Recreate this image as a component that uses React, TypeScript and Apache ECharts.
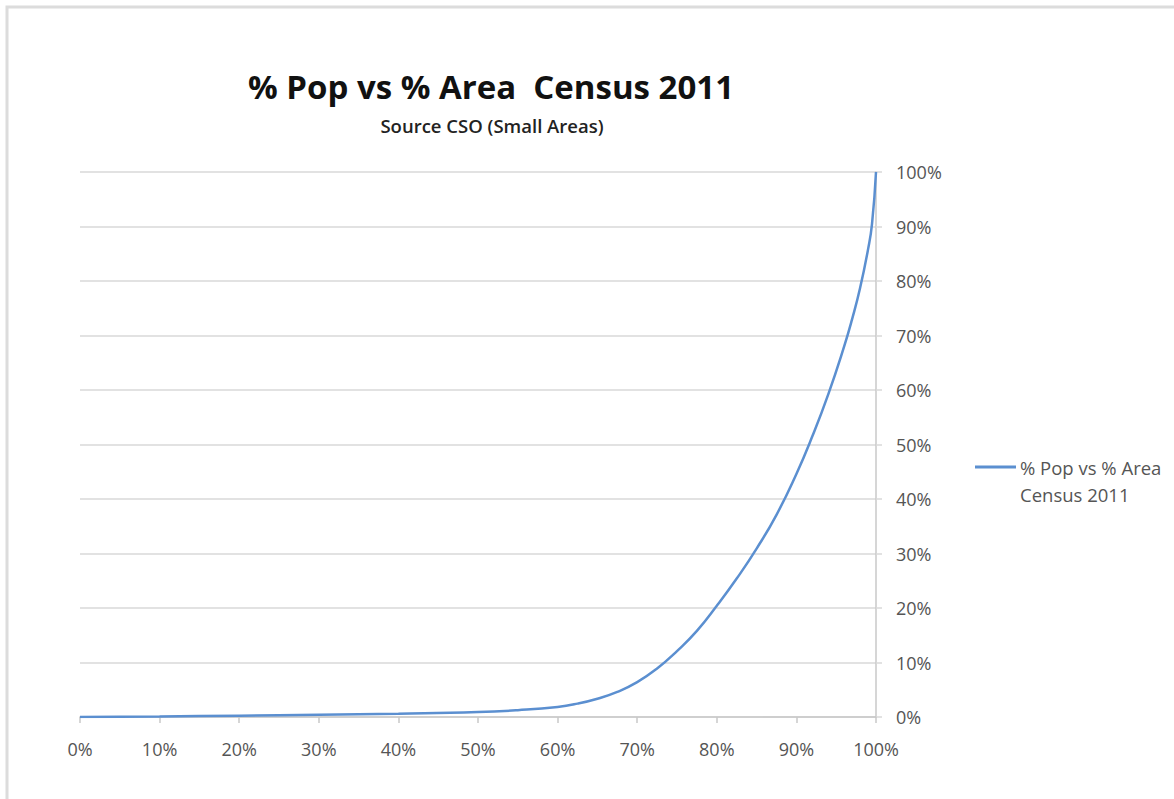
import React, { useEffect, useRef } from "react";
import * as echarts from "echarts";

// Cumulative share of area (x) against cumulative share of population (y)
const areaShare = [
  0, 0.1, 0.2, 0.3, 0.4, 0.5, 0.55, 0.6, 0.625, 0.65, 0.675, 0.7, 0.725, 0.75,
  0.775, 0.8, 0.825, 0.85, 0.875, 0.9, 0.92, 0.94, 0.96, 0.97, 0.98, 0.99,
  0.995, 1.0,
];
const popShare = [
  0, 0.001, 0.0025, 0.004, 0.006, 0.009, 0.0125, 0.0185, 0.0245, 0.0335,
  0.046, 0.064, 0.089, 0.121, 0.158, 0.204, 0.254, 0.309, 0.371, 0.446, 0.515,
  0.592, 0.68, 0.73, 0.787, 0.858, 0.905, 1.0,
];

const seriesName = "% Pop vs % Area Census 2011";
const titleText = "% Pop vs % Area  Census 2011";
const subtitleText = "Source CSO (Small Areas)";
const legendLines = ["% Pop vs % Area", "Census 2011"];

const FONT = "'Open Sans', 'DejaVu Sans', sans-serif";
const LINE_COLOR = "#5b8fd0";
const LABEL_COLOR = "#555555";

const pct = (v: number) => `${Math.round(v * 100)}%`;

export default function App() {
  const ref = useRef<HTMLDivElement>(null);

  useEffect(() => {
    if (!ref.current) return;
    const chart = echarts.init(ref.current, undefined, { renderer: "svg" });
    const points = areaShare.map((x, i) => [x, popShare[i]]);

    chart.setOption({
      animation: false,
      backgroundColor: "#ffffff",
      textStyle: { fontFamily: FONT },
      grid: { left: 80, right: 298, top: 172, bottom: 82 },
      xAxis: {
        type: "value",
        min: 0,
        max: 1,
        interval: 0.1,
        axisLine: {
          show: true,
          onZero: false,
          lineStyle: { color: "#c8c8c8", width: 1.5 },
        },
        axisTick: {
          show: true,
          inside: false,
          length: 6,
          lineStyle: { color: "#c8c8c8", width: 1.5 },
        },
        splitLine: { show: false },
        axisLabel: {
          formatter: pct,
          color: LABEL_COLOR,
          fontFamily: FONT,
          fontSize: 18,
          margin: 23,
        },
      },
      yAxis: {
        type: "value",
        position: "right",
        min: 0,
        max: 1,
        interval: 0.1,
        axisLine: {
          show: true,
          onZero: false,
          lineStyle: { color: "#c8c8c8", width: 1.5 },
        },
        axisTick: {
          show: true,
          inside: false,
          length: 6,
          lineStyle: { color: "#d9d9d9", width: 1.5 },
        },
        splitLine: { show: true, lineStyle: { color: "#d9d9d9", width: 1.5 } },
        axisLabel: {
          formatter: pct,
          color: LABEL_COLOR,
          fontFamily: FONT,
          fontSize: 18,
          margin: 20,
          align: "left",
        },
      },
      series: [
        {
          name: seriesName,
          type: "line",
          data: points,
          showSymbol: false,
          smooth: 0.5,
          lineStyle: { color: LINE_COLOR, width: 2.5 },
          itemStyle: { color: LINE_COLOR },
        },
      ],
      graphic: [
        {
          type: "rect",
          shape: { x: 7, y: 7, width: 1200, height: 900 },
          style: { fill: "none", stroke: "#dcdcdc", lineWidth: 3 },
          silent: true,
        },
        {
          type: "text",
          x: 491,
          y: 86,
          style: {
            text: titleText,
            align: "center",
            verticalAlign: "middle",
            fontFamily: FONT,
            fontWeight: "bold",
            fontSize: 33,
            fill: "#111111",
          },
        },
        {
          type: "text",
          x: 492,
          y: 125,
          style: {
            text: subtitleText,
            align: "center",
            verticalAlign: "middle",
            fontFamily: FONT,
            fontWeight: 600,
            fontSize: 18.5,
            fill: "#222222",
          },
        },
        {
          type: "line",
          shape: { x1: 975, y1: 467, x2: 1016, y2: 467 },
          style: { stroke: LINE_COLOR, lineWidth: 3 },
        },
        {
          type: "text",
          x: 1020,
          y: 467,
          style: {
            text: legendLines[0],
            align: "left",
            verticalAlign: "middle",
            fontFamily: FONT,
            fontSize: 18.5,
            fill: LABEL_COLOR,
          },
        },
        {
          type: "text",
          x: 1020,
          y: 494,
          style: {
            text: legendLines[1],
            align: "left",
            verticalAlign: "middle",
            fontFamily: FONT,
            fontSize: 18.5,
            fill: LABEL_COLOR,
          },
        },
      ],
    });

    return () => chart.dispose();
  }, []);

  return (
    <div
      ref={ref}
      style={{ position: "fixed", left: 0, top: 0, width: 1174, height: 799 }}
    />
  );
}
